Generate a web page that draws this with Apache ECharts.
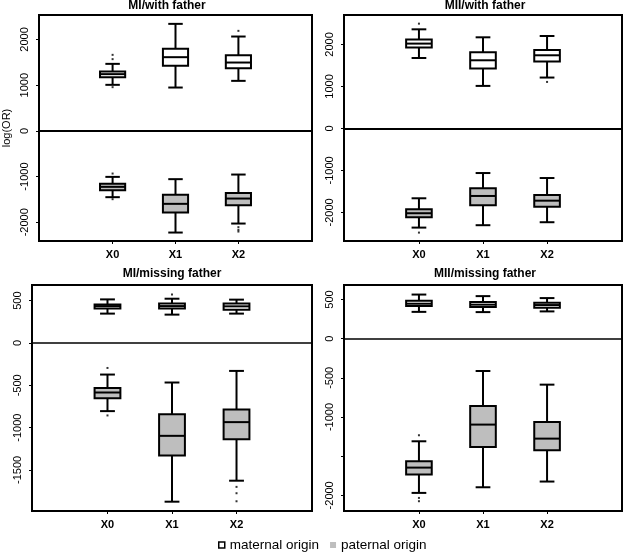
<!DOCTYPE html>
<html>
<head>
<meta charset="utf-8">
<script src="https://cdn.jsdelivr.net/npm/echarts@6/dist/echarts.min.js"></script>
<style>
html,body{margin:0;padding:0;background:#fff;}
#chart{width:625px;height:554px;}
</style>
</head>
<body>
<div id="chart"></div>
<script>
// categories
const categories = ['X0', 'X1', 'X2'];
const panelTitles = ['MI/with father', 'MII/with father', 'MI/missing father', 'MII/missing father'];
const legendNames = ['maternal origin', 'paternal origin'];

// box stats per category: [lower whisker, Q1, median, Q3, upper whisker]
const miWithMaternal = [[1007, 1175, 1241, 1298, 1466], [948, 1422, 1612, 1794, 2341], [1094, 1372, 1495, 1656, 2064]];
const miWithPaternal = [[-1451, -1298, -1225, -1160, -1007], [-2225, -1788, -1597, -1400, -1057], [-2028, -1626, -1481, -1357, -956]];
const miiWithMaternal = [[1677, 1924, 2019, 2114, 2359], [1012, 1425, 1622, 1812, 2169], [1211, 1591, 1741, 1867, 2200]];
const miiWithPaternal = [[-2361, -2114, -2019, -1924, -1663], [-2304, -1829, -1608, -1425, -1062], [-2233, -1862, -1720, -1584, -1181]];
const miMissMaternal = [[347, 406, 436, 456, 515], [335, 406, 436, 465, 523], [347, 394, 433, 465, 512]];
const miMissPaternal = [[-805, -652, -585, -531, -373], [-1875, -1328, -1097, -841, -467], [-1627, -1136, -935, -785, -330]];
const miiMissMaternal = [[342, 418, 446, 485, 563], [339, 403, 434, 467, 543], [348, 395, 429, 459, 518]];
const miiMissPaternal = [[-1969, -1735, -1646, -1565, -1310], [-1897, -1383, -1097, -860, -413], [-1824, -1425, -1276, -1064, -587]];

// outliers: [category index, value]
const miWithOutliers = [[0, 1663], [0, 1569], [0, 956], [2, 2188], [0, -934], [0, -1495], [2, -2107], [2, -2166], [2, -2203]];
const miiWithOutliers = [[0, 2494], [2, 1107], [0, -2480]];
const miMissOutliers = [[1, 574], [0, -295], [0, -856], [2, -1700], [2, -1775], [2, -1870]];
const miiMissOutliers = [[0, -1233], [0, -2033], [0, -2075]];

// y-axis ticks / labels
const yTicksWith = [-2000, -1000, 0, 1000, 2000];
const yTicksMiMiss = [-1500, -1000, -500, 0, 500];
const yTicksMiiMiss = [-2000, -1500, -1000, -500, 0, 500];
const yLabelsMiiMiss = [-2000, -1000, -500, 0, 500];

const FONT = "'Liberation Sans', Arial, sans-serif";
const panels = [
  {grid: {left: 32, top: 15, width: 280, height: 226}, yMin: -2410, yMax: 2535, ticks: yTicksWith, labels: yTicksWith,
   mat: miWithMaternal, pat: miWithPaternal, out: miWithOutliers, zeroW: 2, name: 'log(OR)', titleX: 167, titleY: 0},
  {grid: {left: 344, top: 15, width: 278, height: 226}, yMin: -2680, yMax: 2700, ticks: yTicksWith, labels: yTicksWith,
   mat: miiWithMaternal, pat: miiWithPaternal, out: miiWithOutliers, zeroW: 2, name: '', titleX: 485, titleY: 0},
  {grid: {left: 32, top: 285, width: 280, height: 226}, yMin: -1985, yMax: 685, ticks: yTicksMiMiss, labels: yTicksMiMiss,
   mat: miMissMaternal, pat: miMissPaternal, out: miMissOutliers, zeroW: 1.5, name: '', titleX: 172, titleY: 268},
  {grid: {left: 344, top: 285, width: 278, height: 226}, yMin: -2200, yMax: 685, ticks: yTicksMiiMiss, labels: yLabelsMiiMiss,
   mat: miiMissMaternal, pat: miiMissPaternal, out: miiMissOutliers, zeroW: 1.5, name: '', titleX: 485, titleY: 268}
];

function boxData(stats) {
  return stats.map((s, i) => [i + 1].concat(s));
}

function renderBox(params, api) {
  const x = api.value(0);
  const lo = api.value(1), q1 = api.value(2), med = api.value(3), q3 = api.value(4), hi = api.value(5);
  const hw = 0.2, cw = 0.115;
  const boxTL = api.coord([x - hw, q3]);
  const boxBR = api.coord([x + hw, q1]);
  const cx = api.coord([x, 0])[0];
  const yLo = api.coord([x, lo])[1], yHi = api.coord([x, hi])[1];
  const yMed = api.coord([x, med])[1];
  const capL = api.coord([x - cw, 0])[0], capR = api.coord([x + cw, 0])[0];
  const ls = {stroke: '#000', lineWidth: 2};
  return {
    type: 'group',
    children: [
      {type: 'line', shape: {x1: cx, y1: yHi, x2: cx, y2: boxTL[1]}, style: ls},
      {type: 'line', shape: {x1: cx, y1: boxBR[1], x2: cx, y2: yLo}, style: ls},
      {type: 'line', shape: {x1: capL, y1: yHi, x2: capR, y2: yHi}, style: ls},
      {type: 'line', shape: {x1: capL, y1: yLo, x2: capR, y2: yLo}, style: ls},
      {type: 'rect', shape: {x: boxTL[0], y: boxTL[1], width: boxBR[0] - boxTL[0], height: boxBR[1] - boxTL[1]},
       style: {fill: api.visual('color'), stroke: '#000', lineWidth: 2}},
      {type: 'line', shape: {x1: boxTL[0], y1: yMed, x2: boxBR[0], y2: yMed}, style: ls}
    ]
  };
}

const option = {
  animation: false,
  backgroundColor: '#fff',
  textStyle: {fontFamily: FONT},
  title: panels.map((p, i) => ({
    text: panelTitles[i], left: p.titleX, top: p.titleY, textAlign: 'center', padding: 0,
    textStyle: {fontSize: 12, fontWeight: 'bold', color: '#000', fontFamily: FONT}
  })),
  legend: {
    left: 218, top: 538, padding: 0, itemWidth: 6, itemHeight: 6, itemGap: 11,
    textStyle: {fontSize: 13.5, color: '#000', fontFamily: FONT},
    data: [
      {name: legendNames[0], icon: 'rect', itemStyle: {color: '#fff', borderColor: '#000', borderWidth: 1.5}},
      {name: legendNames[1], icon: 'rect', itemStyle: {color: '#bebebe', borderWidth: 0}}
    ]
  },
  grid: panels.map(p => Object.assign({show: true, borderColor: '#000', borderWidth: 2, backgroundColor: 'transparent', containLabel: false}, p.grid)),
  xAxis: panels.map((p, i) => ({
    type: 'value', gridIndex: i, min: -0.17, max: 4.17, position: 'bottom',
    axisLine: {show: false, onZero: false},
    splitLine: {show: false},
    axisTick: {show: true, inside: false, length: 3, customValues: [1, 2, 3], lineStyle: {color: '#000', width: 1}},
    axisLabel: {show: true, customValues: [1, 2, 3], margin: 8, fontSize: 11, fontWeight: 'bold', color: '#000', fontFamily: FONT,
      formatter: v => categories[Math.round(v) - 1]}
  })),
  yAxis: panels.map((p, i) => ({
    type: 'value', gridIndex: i, min: p.yMin, max: p.yMax, position: 'left',
    name: p.name, nameLocation: 'middle', nameGap: 27, nameRotate: 90,
    nameTextStyle: {fontSize: 11, color: '#000', fontFamily: FONT},
    axisLine: {show: false, onZero: false},
    splitLine: {show: false},
    axisTick: {show: true, inside: false, length: 3, customValues: p.ticks, lineStyle: {color: '#000', width: 1}},
    axisLabel: {show: true, customValues: p.labels, rotate: 90, margin: 9, fontSize: 11, color: '#000', fontFamily: FONT,
      formatter: v => String(v)}
  })),
  series: []
};

panels.forEach((p, i) => {
  option.series.push({
    type: 'custom', name: legendNames[0], xAxisIndex: i, yAxisIndex: i,
    itemStyle: {color: '#fff'},
    encode: {x: 0, y: [1, 2, 3, 4, 5]},
    renderItem: renderBox, data: boxData(p.mat), silent: true
  });
  option.series.push({
    type: 'custom', name: legendNames[1], xAxisIndex: i, yAxisIndex: i,
    itemStyle: {color: '#bebebe'},
    encode: {x: 0, y: [1, 2, 3, 4, 5]},
    renderItem: renderBox, data: boxData(p.pat), silent: true
  });
  option.series.push({
    type: 'scatter', xAxisIndex: i, yAxisIndex: i, symbol: 'rect', symbolSize: 2,
    itemStyle: {color: '#000'}, silent: true,
    data: p.out.map(o => [o[0] + 1, o[1]]),
    markLine: {silent: true, symbol: 'none', label: {show: false},
      lineStyle: {color: '#000', width: p.zeroW, type: 'solid'}, data: [{yAxis: 0}]}
  });
});

const chart = echarts.init(document.getElementById('chart'), null, {renderer: 'canvas'});
chart.setOption(option);
</script>
</body>
</html>
